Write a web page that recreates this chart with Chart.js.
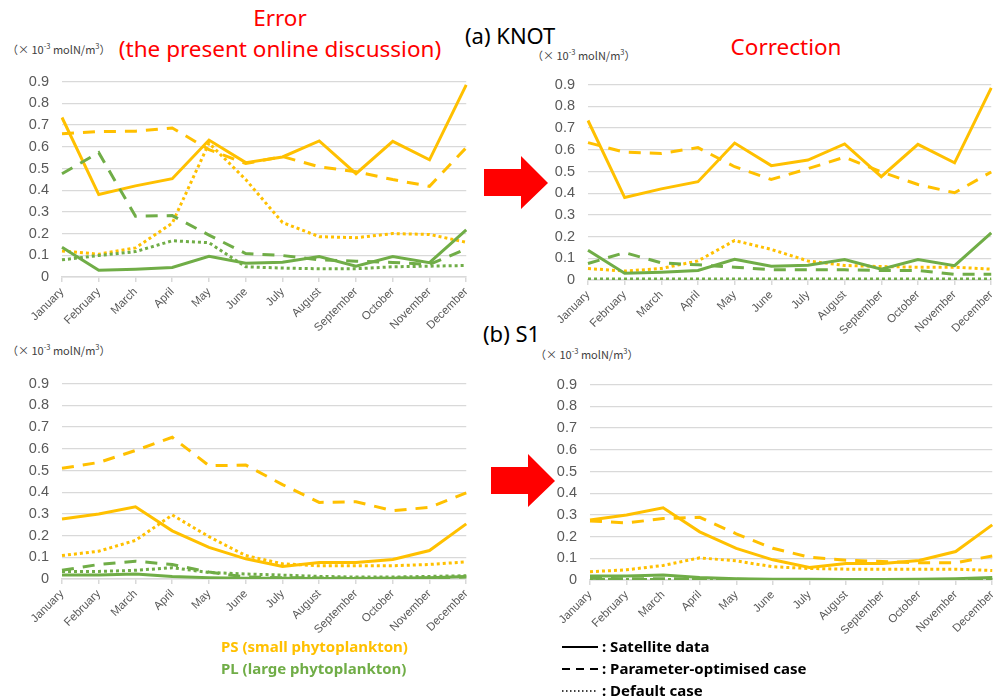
<!DOCTYPE html>
<html>
<head>
<meta charset="utf-8">
<script src="https://cdn.jsdelivr.net/npm/chart.js@4"></script>
<style>
  body { margin: 0; width: 995px; height: 699px; overflow: hidden; position: relative; background: #fff; font-family: "Noto Sans", sans-serif; }
  canvas { position: absolute; }
  .t { position: absolute; white-space: nowrap; line-height: 1; }
  .red { color: #ff0000; font-size: 22.5px; }
  .blk { color: #000; font-size: 22px; }
  .unit { font-size: 11px; color: #404040; font-family: "Noto Sans CJK JP", sans-serif; }
  .unit sup { font-size: 7.5px; }
  .arrow { position: absolute; width: 64px; height: 53px; background: #ff0000;
           clip-path: polygon(0 13px, 37px 13px, 37px 0, 64px 27px, 37px 53px, 37px 40px, 0 40px); }
  .leg { font-weight: bold; font-size: 15px; }
</style>
</head>
<body>

<div class="t red" style="left:230px; top:7px; width:100px; text-align:center;">Error</div>
<div class="t red" style="left:80px; top:38px; width:400px; text-align:center;">(the present online discussion)</div>
<div class="t blk" style="left:465px; top:24px;">(a) KNOT</div>
<div class="t red" style="left:686px; top:36px; width:200px; text-align:center;">Correction</div>
<div class="t blk" style="left:483px; top:322px;">(b) S1</div>

<div class="t unit" style="left:7px; top:42px;">（× 10<sup>-3</sup> molN/m<sup>3</sup>）</div>
<div class="t unit" style="left:532px; top:48px;">（× 10<sup>-3</sup> molN/m<sup>3</sup>）</div>
<div class="t unit" style="left:7px; top:343px;">（× 10<sup>-3</sup> molN/m<sup>3</sup>）</div>
<div class="t unit" style="left:535px; top:347px;">（× 10<sup>-3</sup> molN/m<sup>3</sup>）</div>

<div class="arrow" style="left:484px; top:156px;"></div>
<div class="arrow" style="left:491px; top:454px;"></div>

<canvas id="knotError" width="479" height="277" style="left:0px; top:60px;"></canvas>
<canvas id="knotCorrection" width="478" height="277" style="left:526px; top:63px;"></canvas>
<canvas id="s1Error" width="479" height="277" style="left:0px; top:362px;"></canvas>
<canvas id="s1Correction" width="477" height="277" style="left:528px; top:363px;"></canvas>

<div class="t leg" style="left:221px; top:639px; color:#ffc000;">PS (small phytoplankton)</div>
<div class="t leg" style="left:221px; top:661px; color:#70ad47;">PL (large phytoplankton)</div>

<svg style="position:absolute; left:560px; top:638px;" width="42" height="60">
  <line x1="2" y1="9" x2="38" y2="9" stroke="#000" stroke-width="2"/>
  <line x1="2" y1="31" x2="38" y2="31" stroke="#000" stroke-width="2" stroke-dasharray="8 6"/>
  <line x1="2" y1="53" x2="38" y2="53" stroke="#000" stroke-width="1.5" stroke-dasharray="1.5 2.5"/>
</svg>
<div class="t leg" style="left:602px; top:639px;">: Satellite data</div>
<div class="t leg" style="left:602px; top:661px;">: Parameter-optimised case</div>
<div class="t leg" style="left:602px; top:683px;">: Default case</div>

<script>
const months = ['January', 'February', 'March', 'April', 'May', 'June', 'July',
                'August', 'September', 'October', 'November', 'December'];
const yTicks = [0, 0.1, 0.2, 0.3, 0.4, 0.5, 0.6, 0.7, 0.8, 0.9];

// satellite data (same in error and correction panels)
const satPsKnot = [0.735, 0.38, 0.42, 0.453, 0.631, 0.527, 0.553, 0.627, 0.476, 0.625, 0.54, 0.885];
const satPlKnot = [0.137, 0.031, 0.036, 0.044, 0.095, 0.063, 0.068, 0.094, 0.05, 0.094, 0.066, 0.217];
const satPsS1 = [0.277, 0.3, 0.333, 0.222, 0.146, 0.093, 0.058, 0.076, 0.076, 0.09, 0.131, 0.254];
const satPlS1 = [0.018, 0.018, 0.023, 0.012, 0.006, 0.003, 0.003, 0.002, 0.002, 0.003, 0.006, 0.012];

// (a) KNOT - error
const errPsOptKnot = [0.66, 0.67, 0.672, 0.687, 0.587, 0.523, 0.555, 0.508, 0.485, 0.449, 0.418, 0.596];
const errPsDefKnot = [0.12, 0.105, 0.134, 0.248, 0.617, 0.449, 0.251, 0.186, 0.181, 0.2, 0.196, 0.16];
const errPlOptKnot = [0.476, 0.573, 0.28, 0.283, 0.193, 0.108, 0.099, 0.079, 0.073, 0.067, 0.058, 0.129];
const errPlDefKnot = [0.079, 0.099, 0.117, 0.167, 0.158, 0.047, 0.041, 0.038, 0.038, 0.047, 0.05, 0.053];

// (a) KNOT - correction
const corPsOptKnot = [0.633, 0.589, 0.583, 0.61, 0.522, 0.463, 0.513, 0.566, 0.498, 0.44, 0.402, 0.498];
const corPsDefKnot = [0.053, 0.041, 0.053, 0.088, 0.182, 0.141, 0.088, 0.067, 0.062, 0.059, 0.059, 0.05];
const corPlOptKnot = [0.076, 0.126, 0.079, 0.07, 0.059, 0.047, 0.047, 0.047, 0.044, 0.044, 0.026, 0.026];
const corPlDefKnot = [0.005, 0.005, 0.005, 0.005, 0.005, 0.005, 0.005, 0.005, 0.005, 0.005, 0.005, 0.005];

// (b) S1 - error
const errPsOptS1 = [0.51, 0.537, 0.592, 0.653, 0.522, 0.525, 0.435, 0.353, 0.356, 0.315, 0.33, 0.397];
const errPsDefS1 = [0.108, 0.128, 0.178, 0.295, 0.195, 0.108, 0.07, 0.061, 0.061, 0.061, 0.067, 0.079];
const errPlOptS1 = [0.04, 0.067, 0.082, 0.067, 0.032, 0.009, 0.006, 0.005, 0.004, 0.004, 0.005, 0.009];
const errPlDefS1 = [0.035, 0.035, 0.04, 0.052, 0.03, 0.023, 0.018, 0.012, 0.009, 0.009, 0.012, 0.015];

// (b) S1 - correction
const corPsOptS1 = [0.272, 0.263, 0.283, 0.289, 0.213, 0.146, 0.105, 0.091, 0.085, 0.079, 0.079, 0.111];
const corPsDefS1 = [0.038, 0.047, 0.067, 0.102, 0.088, 0.061, 0.053, 0.05, 0.05, 0.05, 0.05, 0.044];
const corPlOptS1 = [0.008, 0.006, 0.006, 0.004, 0.003, 0.002, 0.002, 0.002, 0.002, 0.002, 0.002, 0.003];
const corPlDefS1 = [0.002, 0.002, 0.002, 0.002, 0.002, 0.002, 0.002, 0.002, 0.002, 0.002, 0.002, 0.002];

const PS_COLOR = '#ffc000';
const PL_COLOR = '#70ad47';
const DASH = [12, 9];
const DOT = [3, 3];

function line(data, color, dash) {
    return {
        data: data,
        borderColor: color,
        borderWidth: 3,
        borderDash: dash,
        borderCapStyle: 'butt',
        pointRadius: 0,
        tension: 0,
        fill: false
    };
}

function makePanel(id, s) {
    const ctx = document.getElementById(id).getContext('2d');
    new Chart(ctx, {
        type: 'line',
        data: {
            labels: months,
            datasets: [
                line(s.plDef, PL_COLOR, DOT),
                line(s.plOpt, PL_COLOR, DASH),
                line(s.plSat, PL_COLOR, []),
                line(s.psDef, PS_COLOR, DOT),
                line(s.psOpt, PS_COLOR, DASH),
                line(s.psSat, PS_COLOR, [])
            ]
        },
        options: {
            responsive: false,
            animation: false,
            layout: { padding: { top: 12, right: 10, bottom: 0, left: 0 } },
            plugins: { legend: { display: false }, tooltip: { enabled: false } },
            scales: {
                x: {
                    grid: { drawOnChartArea: false, drawTicks: true, tickLength: 5, color: '#d9d9d9', lineWidth: 1.5 },
                    border: { display: true, color: '#d9d9d9', width: 1.5 },
                    ticks: {
                        autoSkip: false, maxRotation: 45, minRotation: 45, padding: 3,
                        color: '#595959', font: { family: 'Liberation Sans', size: 11.5 }
                    },
                    afterFit: scale => { scale.height = 60; }
                },
                y: {
                    min: 0,
                    max: 0.9,
                    afterBuildTicks: scale => { scale.ticks = yTicks.map(v => ({ value: v })); },
                    grid: { drawTicks: false, color: '#d9d9d9', lineWidth: 1.3 },
                    border: { display: false },
                    ticks: {
                        padding: 13, color: '#595959', font: { family: 'Liberation Sans', size: 14.5 },
                        callback: v => v === 0 ? '0' : v.toFixed(1)
                    },
                    afterFit: scale => { scale.width = 62; }
                }
            }
        }
    });
}

makePanel('knotError', {
    psSat: satPsKnot, psOpt: errPsOptKnot, psDef: errPsDefKnot,
    plSat: satPlKnot, plOpt: errPlOptKnot, plDef: errPlDefKnot
});
makePanel('knotCorrection', {
    psSat: satPsKnot, psOpt: corPsOptKnot, psDef: corPsDefKnot,
    plSat: satPlKnot, plOpt: corPlOptKnot, plDef: corPlDefKnot
});
makePanel('s1Error', {
    psSat: satPsS1, psOpt: errPsOptS1, psDef: errPsDefS1,
    plSat: satPlS1, plOpt: errPlOptS1, plDef: errPlDefS1
});
makePanel('s1Correction', {
    psSat: satPsS1, psOpt: corPsOptS1, psDef: corPsDefS1,
    plSat: satPlS1, plOpt: corPlOptS1, plDef: corPlDefS1
});
</script>
</body>
</html>
